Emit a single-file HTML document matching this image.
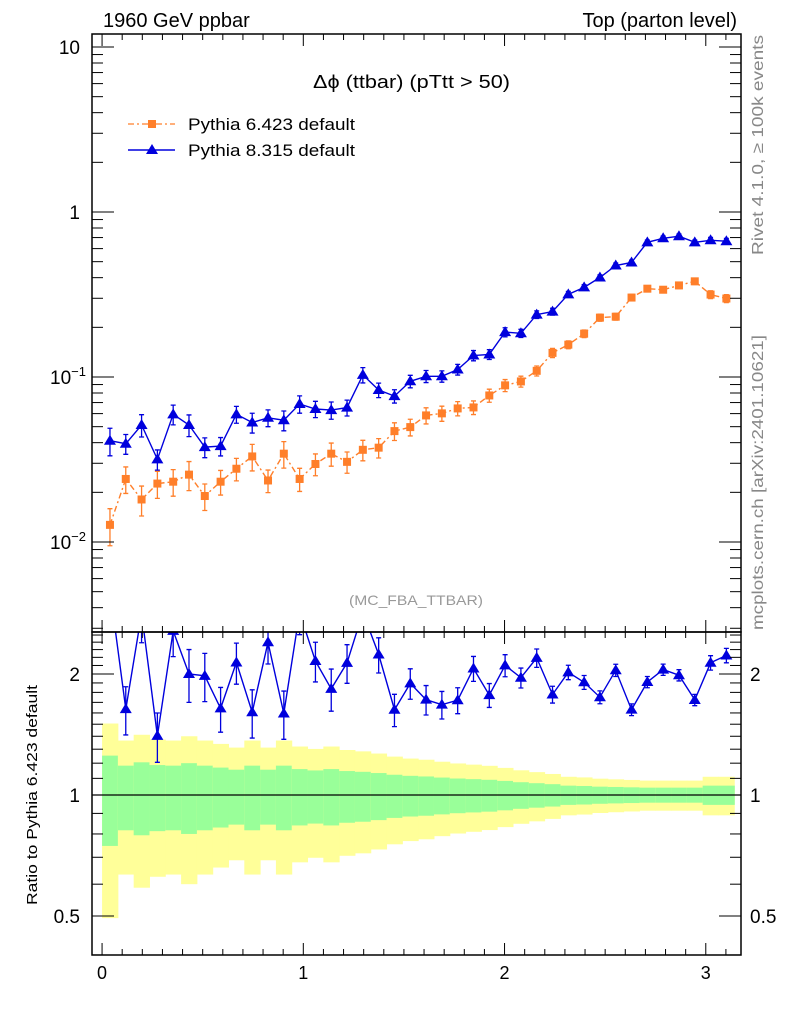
<!DOCTYPE html>
<html><head><meta charset="utf-8"><style>
body{margin:0;background:#fff;width:786px;height:1024px;overflow:hidden}
text{font-family:"Liberation Sans",sans-serif}
</style></head><body>
<svg id="chart" width="786" height="1024" viewBox="0 0 786 1024" xmlns="http://www.w3.org/2000/svg">
<text x="103" y="27" font-size="20">1960 GeV ppbar</text>
<text x="737" y="27" font-size="20" text-anchor="end">Top (parton level)</text>
<text x="313" y="88" font-size="18" textLength="197" lengthAdjust="spacingAndGlyphs">Δϕ (ttbar) (pTtt &gt; 50)</text>
<text x="349" y="605" font-size="14" fill="#999" textLength="134" lengthAdjust="spacingAndGlyphs">(MC_FBA_TTBAR)</text>
<text transform="translate(763,255) rotate(-90)" font-size="16" fill="#888" textLength="220" lengthAdjust="spacingAndGlyphs">Rivet 4.1.0, ≥ 100k events</text>
<text transform="translate(763,630) rotate(-90)" font-size="16" fill="#888" textLength="295" lengthAdjust="spacingAndGlyphs">mcplots.cern.ch [arXiv:2401.10621]</text>
<text transform="translate(37,905) rotate(-90)" font-size="15" textLength="220" lengthAdjust="spacingAndGlyphs">Ratio to Pythia 6.423 default</text>
<g>
 <line x1="128" y1="124" x2="175" y2="124" stroke="#ff7f2a" stroke-width="1.3" stroke-dasharray="6,3,2,3"/>
 <rect x="148" y="120" width="8" height="8" fill="#ff7f2a"/>
 <text x="188" y="130" font-size="17" textLength="167" lengthAdjust="spacingAndGlyphs">Pythia 6.423 default</text>
 <line x1="128" y1="150" x2="175" y2="150" stroke="#0000dd" stroke-width="1.5"/>
 <polygon points="152,144 158,154 146,154" fill="#0000dd"/>
 <text x="188" y="156" font-size="17" textLength="167" lengthAdjust="spacingAndGlyphs">Pythia 8.315 default</text>
</g>
<g id="g"></g>
</svg>
<script>
const nb = 40;
const py6Values = [0.0127,0.0241,0.0181,0.0226,0.0232,0.0256,0.0190,0.0232,0.0278,0.0330,0.0236,0.0343,0.0241,0.0297,0.0343,0.0306,0.0362,0.0373,0.0470,0.0497,0.0585,0.0602,0.0645,0.0654,0.0773,0.089,0.094,0.109,0.140,0.157,0.183,0.229,0.232,0.303,0.343,0.338,0.359,0.380,0.316,0.299];
const py8Values = [0.0411,0.0394,0.0512,0.0317,0.0594,0.0512,0.0376,0.0381,0.0594,0.0530,0.0566,0.0547,0.0686,0.0640,0.0630,0.0652,0.103,0.0834,0.0766,0.0942,0.101,0.101,0.111,0.135,0.137,0.187,0.184,0.239,0.249,0.317,0.349,0.401,0.474,0.494,0.655,0.693,0.713,0.655,0.674,0.665];
const py6RelErr = [0.253,0.183,0.206,0.187,0.183,0.20,0.183,0.17,0.156,0.183,0.156,0.183,0.16,0.151,0.16,0.147,0.142,0.134,0.123,0.116,0.112,0.105,0.099,0.095,0.091,0.084,0.076,0.07,0.064,0.055,0.053,0.049,0.047,0.045,0.043,0.043,0.043,0.043,0.055,0.055];
const py8RelErr = py6RelErr.map(e=>e*0.75);
const xTicks = [0,1,2,3];
const mainYTicks = [10,1,0.1,0.01];
const mainYLabels = ["10","1","10^-1","10^-2"];
const ratioYTicks = [0.5,1,2];
const ratioYLabels = ["0.5","1","2"];

const L=92,R=741,T=34,MB=632,RB=955;
const xmin=-0.05,xmax=3.175;
const X=v=>L+(v-xmin)/(xmax-xmin)*(R-L);
const Y=v=>212-165*Math.log10(v);
const RY=v=>795-402*Math.log10(v);
const NS="http://www.w3.org/2000/svg";
const g=document.getElementById('g');
function mk(tag,at,parent){const e=document.createElementNS(NS,tag);for(const k in at)e.setAttribute(k,at[k]);(parent||g).appendChild(e);return e;}
const bw=Math.PI/nb;
const cx=i=>(i+0.5)*bw;

const band=mk('g',{});


for(let i=0;i<nb;i++){
 const e=py6RelErr[i];
 const x0=X(i*bw),x1=X((i+1)*bw);
 const y1=mk('rect',{x:x0,y:RY(1+2*e),width:x1-x0+0.5,height:RY(Math.max(1-2*e,0.41))-RY(1+2*e),fill:'#ffff99'},band);
 
 
 const g1=mk('rect',{x:x0,y:RY(1+e),width:x1-x0+0.5,height:RY(1-e)-RY(1+e),fill:'#99ff99'},band);
 
 
}
mk('line',{x1:L,x2:R,y1:RY(1),y2:RY(1),stroke:'#000','stroke-width':1.3});

const defs=mk('defs',{});
const c1=mk('clipPath',{id:'cm'},defs);mk('rect',{x:L,y:T,width:R-L,height:MB-T},c1);
const c2=mk('clipPath',{id:'cr'},defs);mk('rect',{x:L,y:MB,width:R-L,height:RB-MB},c2);

function series(vals,errs,color,dash,marker,Yf,clip,name){
 const s=mk('g',{'clip-path':'url(#'+clip+')'});
 
 
 let d='';
 vals.forEach((v,i)=>{d+=(i?'L':'M')+X(cx(i)).toFixed(1)+','+Yf(v).toFixed(1);});
 const p=mk('path',{d:d,fill:'none',stroke:color,'stroke-width':1.4},s);
 if(dash)p.setAttribute('stroke-dasharray',dash);
 vals.forEach((v,i)=>{
  const x=X(cx(i)),e=errs[i];
  const yt=Yf(v*(1+e)),yb=Yf(v*(1-e));
  mk('path',{d:`M${x},${yt}V${yb}M${x-2.5},${yt}H${x+2.5}M${x-2.5},${yb}H${x+2.5}`,stroke:color,'stroke-width':1.3,fill:'none'},s);
  const y=Yf(v);
  let m;
  if(marker==='sq')m=mk('rect',{x:x-4,y:y-4,width:8,height:8,fill:color},s);
  else m=mk('polygon',{points:`${x},${y-6} ${x+6},${y+4} ${x-6},${y+4}`,fill:color},s);
  
  
 });
}
series(py6Values,py6RelErr,'#ff7f2a','6,3,2,3','sq',Y,'cm','pythia6-series');
series(py8Values,py8RelErr,'#0000dd',null,'tri',Y,'cm','pythia8-series');
const ratioVals=py8Values.map((v,i)=>v/py6Values[i]);
series(ratioVals,py8RelErr,'#0000dd',null,'tri',RY,'cr','pythia8-ratio-series');

mk('rect',{x:L,y:T,width:R-L,height:MB-T,fill:'none',stroke:'#000','stroke-width':1.5});
mk('rect',{x:L,y:MB,width:R-L,height:RB-MB,fill:'none',stroke:'#000','stroke-width':1.5});

for(let k=0;k<=31;k++){
 const v=k/10,x=X(v),len=(k%10===0)?12:6;
 [[T,1],[MB,-1],[MB,1],[RB,-1]].forEach(([y0,dir])=>mk('line',{x1:x,x2:x,y1:y0,y2:y0+dir*len,stroke:'#000','stroke-width':1}));
}
xTicks.forEach(v=>{const t=mk('text',{x:X(v),y:979,'font-size':18,'text-anchor':'middle'});t.textContent=v;
 });

for(let dec=-3;dec<=1;dec++){
 for(let m=1;m<=9;m++){
  const v=m*Math.pow(10,dec),y=Y(v);
  if(y<T||y>MB)continue;
  const len=m===1?22:11;
  mk('line',{x1:L,x2:L+len,y1:y,y2:y,stroke:'#000','stroke-width':1});
  mk('line',{x1:R,x2:R-len,y1:y,y2:y,stroke:'#000','stroke-width':1});
 }
}
mainYTicks.forEach((v,i)=>{
 const lab=mainYLabels[i];const t=mk('text',{x:80,y:Y(v)+7,'font-size':19,'text-anchor':'end'});
 
 if(lab.indexOf('^')>0){const [b,ex]=lab.split('^');t.textContent=b;const s=mk('tspan',{dy:-8,'font-size':13},t);s.textContent=ex.replace('-','−');t.setAttribute('x',86);}
 else t.textContent=lab;
});
for(let k=4;k<=25;k++){
 const v=k/10,y=RY(v);if(y<MB||y>RB)continue;
 const len=(k===5||k===10||k===20)?22:11;
 mk('line',{x1:L,x2:L+len,y1:y,y2:y,stroke:'#000','stroke-width':1});
 mk('line',{x1:R,x2:R-len,y1:y,y2:y,stroke:'#000','stroke-width':1});
}
ratioYTicks.forEach((v,i)=>{
 [[80,'end'],[750,'start']].forEach(([x,a])=>{const t=mk('text',{x:x,y:RY(v)+7,'font-size':19,'text-anchor':a});t.textContent=ratioYLabels[i];
 });
});
</script>
</body></html>
